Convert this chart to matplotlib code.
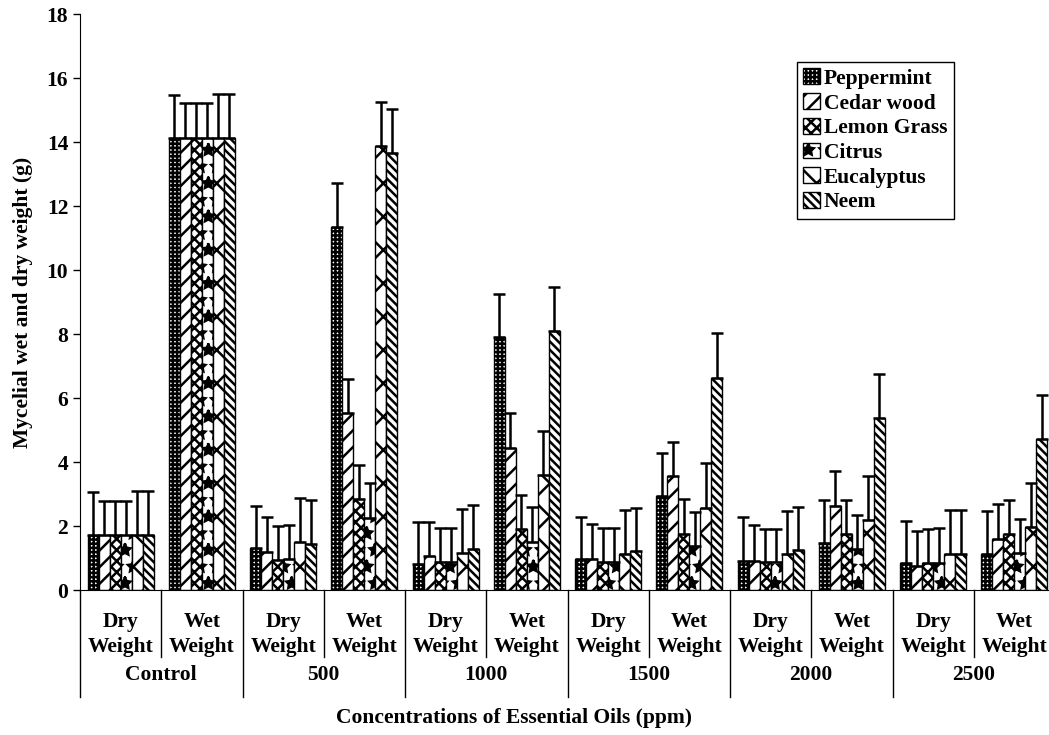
import matplotlib
matplotlib.use("Agg")
from matplotlib import pyplot as plt
import numpy as np

plt.rcParams['font.family'] = ['Liberation Serif', 'DejaVu Serif']
plt.rcParams['font.weight'] = 'bold'
plt.rcParams['hatch.linewidth'] = 1.8

concentrations = ['Control', '500', '1000', '1500', '2000', '2500']
weights = ['Dry\nWeight', 'Wet\nWeight']
oils = ['Peppermint', 'Cedar wood', 'Lemon Grass', 'Citrus', 'Eucalyptus', 'Neem']

# dry, wet for each concentration in turn
peppermint = [1.72, 14.12, 1.30, 11.34, 0.81, 7.92, 0.96, 2.93, 0.92, 1.48, 0.83, 1.13]
cedar_wood = [1.72, 14.12, 1.20, 5.52, 1.06, 4.45, 0.97, 3.55, 0.92, 2.64, 0.76, 1.60]
lemon_grass = [1.72, 14.12, 0.94, 2.84, 0.86, 1.90, 0.87, 1.75, 0.87, 1.75, 0.84, 1.75]
citrus = [1.72, 14.12, 0.96, 2.26, 0.86, 1.51, 0.87, 1.37, 0.87, 1.27, 0.85, 1.15]
eucalyptus = [1.72, 14.12, 1.51, 13.87, 1.15, 3.59, 1.13, 2.57, 1.11, 2.18, 1.13, 1.96]
neem = [1.72, 14.12, 1.44, 13.66, 1.28, 8.09, 1.22, 6.63, 1.24, 5.36, 1.13, 4.72]

err_peppermint = [1.34, 1.35, 1.33, 1.38, 1.33, 1.33, 1.33, 1.34, 1.35, 1.33, 1.34, 1.34]
err_cedar_wood = [1.06, 1.09, 1.08, 1.08, 1.06, 1.09, 1.08, 1.08, 1.10, 1.09, 1.09, 1.08]
err_lemon_grass = [1.06, 1.09, 1.07, 1.08, 1.09, 1.06, 1.06, 1.08, 1.05, 1.06, 1.07, 1.06]
err_citrus = [1.06, 1.09, 1.07, 1.07, 1.09, 1.07, 1.07, 1.08, 1.05, 1.07, 1.08, 1.07]
err_eucalyptus = [1.38, 1.38, 1.38, 1.38, 1.37, 1.38, 1.37, 1.39, 1.37, 1.38, 1.37, 1.37]
err_neem = [1.38, 1.38, 1.38, 1.37, 1.38, 1.37, 1.35, 1.40, 1.36, 1.38, 1.37, 1.37]

values = [peppermint, cedar_wood, lemon_grass, citrus, eucalyptus, neem]
errors = [err_peppermint, err_cedar_wood, err_lemon_grass, err_citrus, err_eucalyptus, err_neem]
hatches = ['++++', '//', 'xxx', '*', 'x', '\\\\\\\\']

fs = 15.5

fig = plt.figure(figsize=(10.49, 7.35), dpi=100)
ax = fig.add_axes([80 / 1049, 145 / 735, 975 / 1049, 576 / 735])

n_sub = len(concentrations) * len(weights)
x = np.arange(n_sub) + 0.5
w = 0.1355

for j, (oil, vals, errs, h) in enumerate(zip(oils, values, errors, hatches)):
    ax.bar(x + (j - 2.5) * w, vals, w, color='white', edgecolor='black',
           linewidth=1.0, hatch=h, label=oil,
           yerr=[np.zeros(n_sub), errs],
           error_kw=dict(ecolor='black', elinewidth=1.8, capsize=4, capthick=1.8))

ax.set_xlim(0, n_sub)
ax.set_ylim(0, 18)
ax.set_yticks(range(0, 19, 2))
ax.tick_params(axis='y', direction='out', length=5, labelsize=fs, width=1)
for t in ax.get_yticklabels():
    t.set_fontweight('bold')
ax.set_xticks([])
ax.spines['top'].set_visible(False)
ax.spines['right'].set_visible(False)

# two-level category axis
tr = ax.get_xaxis_transform()
for i in range(n_sub + 1):
    low = -0.185 if i % 2 == 0 else -0.117
    ax.plot([i, i], [0, low], color='black', lw=1, transform=tr, clip_on=False)
for i in range(n_sub):
    ax.text(x[i], -0.039, weights[i % 2], transform=tr, ha='center', va='top',
            fontsize=fs, fontweight='bold', linespacing=1.3)
for k, c in enumerate(concentrations):
    ax.text(2 * k + 1, -0.147, c, transform=tr, ha='center', va='center',
            fontsize=fs, fontweight='bold')

ax.set_ylabel('Mycelial wet and dry weight (g)', fontsize=fs, fontweight='bold', labelpad=10)
fig.text(0.49, 0.023, 'Concentrations of Essential Oils (ppm)', ha='center', va='center',
         fontsize=fs, fontweight='bold')

leg = ax.legend(loc='upper left', bbox_to_anchor=(717 / 975, 1 - 48 / 576),
                frameon=True, fancybox=False, edgecolor='black', framealpha=1,
                prop={'weight': 'bold', 'size': fs}, handlelength=0.75,
                handleheight=0.75, handletextpad=0.2, labelspacing=0.2,
                borderpad=0.3, borderaxespad=0)
leg.get_frame().set_linewidth(1.0)

fig.savefig('out.png', dpi=100)
